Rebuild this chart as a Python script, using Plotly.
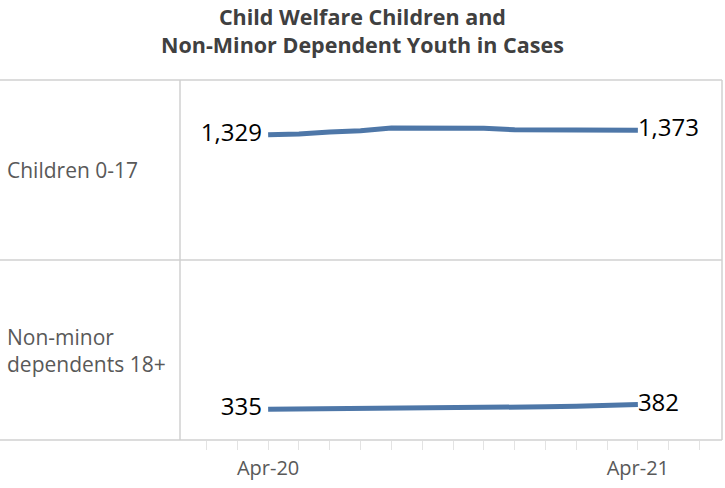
import plotly.graph_objects as go
from plotly.subplots import make_subplots

months = ["Apr-20", "May-20", "Jun-20", "Jul-20", "Aug-20", "Sep-20", "Oct-20",
          "Nov-20", "Dec-20", "Jan-21", "Feb-21", "Mar-21", "Apr-21"]
children = [1329, 1336, 1356, 1369, 1396, 1398, 1403, 1393, 1379, 1376, 1379, 1375, 1373]
nmd = [335, 337, 338, 340, 343, 344, 345, 348, 356, 360, 366, 373, 382]
row_labels = ["Children 0-17", "Non-minor<br>dependents 18+"]
tick_labels = ["Apr-20", "Apr-21"]
title_lines = ["Child Welfare Children and", "Non-Minor Dependent Youth in Cases"]

FONT = "Open Sans"
LINE = "#4E77A8"
GRID = "#D0D0D0"

idx = list(range(len(months)))

def end_text(vals):
    out = []
    for i, v in enumerate(vals):
        if i == 0:
            out.append(f"{v:,} ")
        elif i == len(vals) - 1:
            out.append(f"{v:,}")
        else:
            out.append("")
    return out

def end_pos(vals):
    return ["middle left" if i == 0 else "middle right" for i in range(len(vals))]

fig = make_subplots(rows=2, cols=1, shared_xaxes=True, vertical_spacing=0)

for r, vals in enumerate([children, nmd], start=1):
    fig.add_trace(go.Scatter(
        x=idx, y=vals, mode="lines+text",
        text=end_text(vals), textposition=end_pos(vals),
        textfont=dict(family=FONT, size=24, color="#000000"),
        line=dict(color=LINE, width=5),
        customdata=months, hovertemplate="%{customdata}: %{y:,}<extra></extra>",
        showlegend=False, cliponaxis=False,
    ), row=r, col=1)

xr = [-2.86, 14.73]
for r in (1, 2):
    fig.update_xaxes(range=xr, showgrid=False, zeroline=False, showline=False,
                     tickvals=[0, 12], ticktext=tick_labels if r == 2 else ["", ""],
                     ticks="outside" if r == 2 else "", ticklen=9, tickcolor="#E3E3E3", tickwidth=1,
                     tickfont=dict(family=FONT, size=20, color="#595959"),
                     ticklabelstandoff=1,
                     showticklabels=(r == 2), row=r, col=1)
fig.update_xaxes(minor=dict(ticks="outside", dtick=1, tick0=0, ticklen=9,
                            tickcolor="#E3E3E3", tickwidth=1), row=2, col=1)

fig.update_yaxes(range=[76, 1876], visible=False, row=1, col=1)
fig.update_yaxes(range=[28, 1828], visible=False, row=2, col=1)

W = 542.0
H = 360.0
shapes = []
for yy in (1.0, 0.5, 0.0):
    shapes.append(dict(type="line", xref="paper", yref="paper",
                       x0=-180 / W, x1=1, y0=yy, y1=yy,
                       line=dict(color=GRID, width=1.5)))
for xx in (0, 1):
    shapes.append(dict(type="line", xref="paper", yref="paper",
                       x0=xx, x1=xx, y0=0, y1=1,
                       line=dict(color=GRID, width=1.5)))

annotations = []
for lab, yy in zip(row_labels, (0.75, 0.25)):
    annotations.append(dict(text=lab, xref="paper", yref="paper",
                            x=-175 / W, y=yy, xanchor="left", yanchor="middle",
                            align="left", showarrow=False,
                            font=dict(family=FONT, size=21, color="#595959")))

annotations.append(dict(text="<br>".join(f"<b>{t}</b>" for t in title_lines),
                        xref="paper", yref="paper",
                        x=(362.5 - 180) / W, y=1 + 80 / H,
                        xanchor="center", yanchor="top", align="center",
                        showarrow=False,
                        font=dict(family=FONT, size=21.5, color="#404040")))

fig.update_layout(
    width=725, height=488,
    margin=dict(l=180, r=3, t=80, b=48),
    paper_bgcolor="white", plot_bgcolor="white",
    shapes=shapes, annotations=annotations,
)

fig.write_html("out.html", config={"displayModeBar": False},
               post_script="document.body.style.margin='0';document.body.style.overflow='hidden';")
